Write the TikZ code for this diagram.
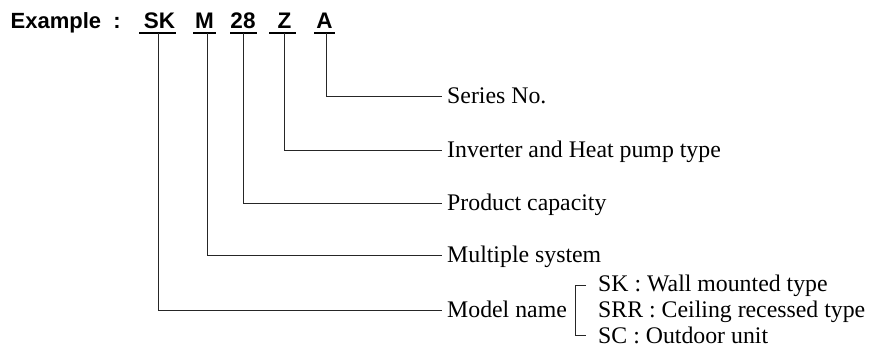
\documentclass[tikz,border=0pt]{standalone}
\usepackage{fontspec}
\setmainfont{Liberation Serif}
\newfontfamily\boldsans{Liberation Sans}
\begin{document}
\begin{tikzpicture}[x=1pt,y=-1pt,
  code/.style={font=\boldsans\bfseries\fontsize{22.5}{26}\selectfont, inner sep=0pt, anchor=base},
  lbl/.style={font=\fontsize{23.8}{26}\selectfont, inner ysep=0pt, inner xsep=5pt, text height=15.5pt, text depth=0pt, anchor=base west},
  uline/.style={line width=1.9pt},
  lead/.style={line width=0.9pt, draw=black!85}]
\useasboundingbox (0,0) rectangle (869,347);
% header
\node[code, anchor=base west, font=\boldsans\bfseries\fontsize{22}{26}\selectfont] (ex) at (10.5,29) {Example\hspace{6pt} :};
\node[code] (cSK) at (159.5,29) {SK};
\node[code] (cM) at (204.5,29) {M};
\node[code] (c28) at (243,29) {28};
\node[code] (cZ) at (284.5,29) {Z};
\node[code] (cA) at (324.5,29) {A};
\draw[uline] (139,33.3) -- (176,33.3);
\draw[uline] (193,33.3) -- (216,33.3);
\draw[uline] (230,33.3) -- (257,33.3);
\draw[uline] (269,33.3) -- (296,33.3);
\draw[uline] (314,33.3) -- (335,33.3);
\coordinate (tSK) at (158,33);
\coordinate (tM) at (207,33);
\coordinate (t28) at (243,33);
\coordinate (tZ) at (284,33);
\coordinate (tA) at (326,33);
% labels
\node[lbl] (series) at (442,103.75) {Series No.};
\node[lbl] (inverter) at (442,157.75) {Inverter and Heat pump type};
\node[lbl] (product) at (442,210.75) {Product capacity};
\node[lbl] (multiple) at (442,262.75) {Multiple system};
\node[lbl] (model) at (442,317.75) {Model name};
% leaders
\draw[lead] (tA) |- (series.west);
\draw[lead] (tZ) |- (inverter.west);
\draw[lead] (t28) |- (product.west);
\draw[lead] (tM) |- (multiple.west);
\draw[lead] (tSK) |- (model.west);
% model types
\node[lbl, inner xsep=0pt] (typeSK) at (598,291) {SK : Wall mounted type};
\node[lbl, inner xsep=0pt] (typeSRR) at (598,317) {SRR : Ceiling recessed type};
\node[lbl, inner xsep=0pt] (typeSC) at (598,343) {SC : Outdoor unit};
\draw[lead] (586,285) -| (575,335) -- (586,335);
\end{tikzpicture}
\end{document}
